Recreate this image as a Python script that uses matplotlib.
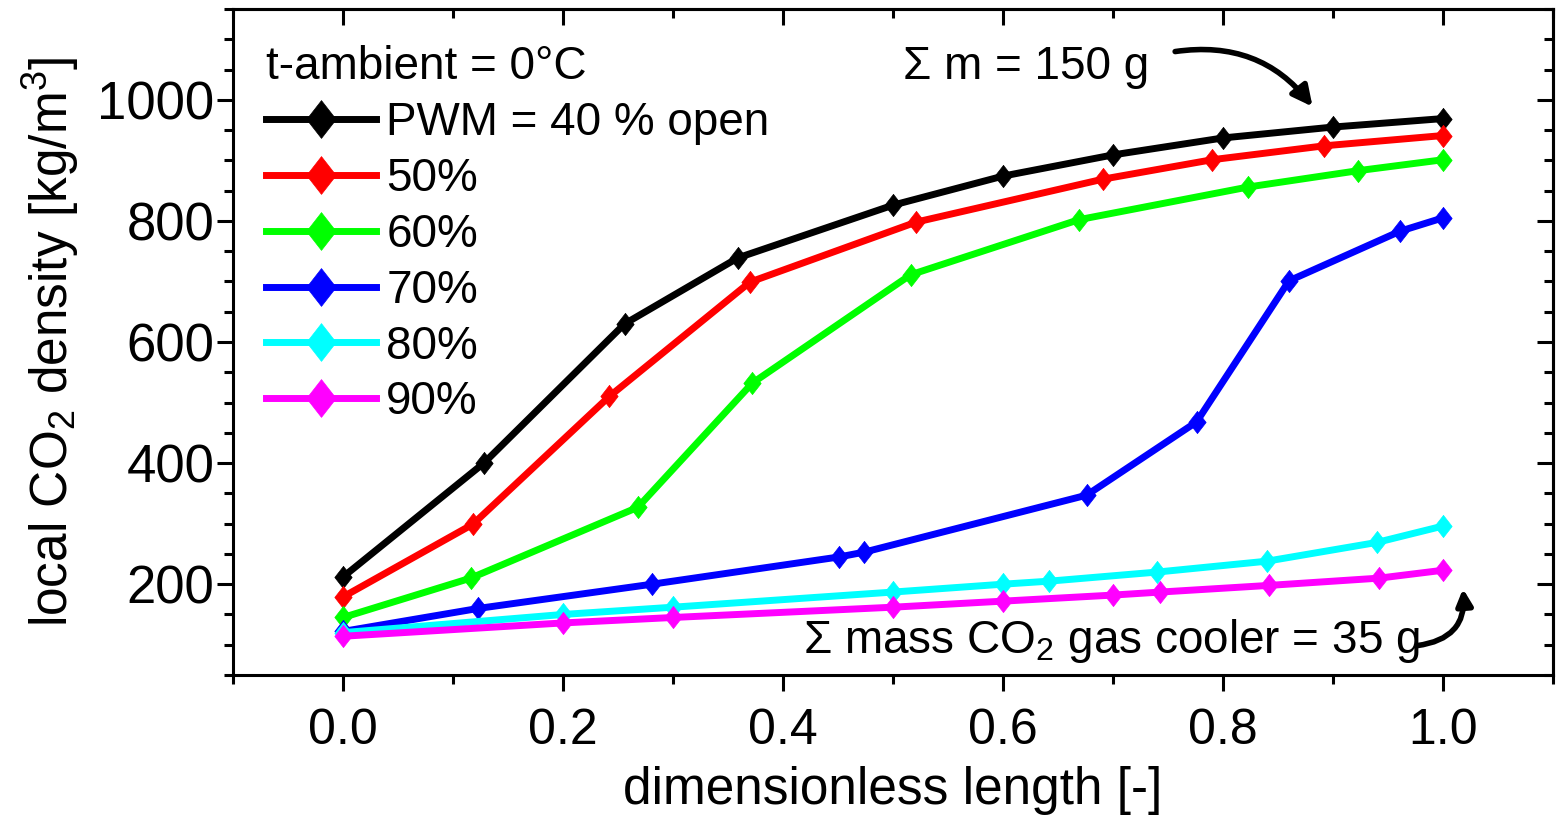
import matplotlib
matplotlib.use("Agg")
import matplotlib.pyplot as plt
from matplotlib.ticker import MultipleLocator

plt.rcParams["font.family"] = ["Liberation Sans", "DejaVu Sans"]
plt.rcParams["mathtext.fontset"] = "custom"
plt.rcParams["mathtext.rm"] = "Liberation Sans"
plt.rcParams["mathtext.it"] = "Liberation Sans:italic"
plt.rcParams["mathtext.bf"] = "Liberation Sans:bold"

# values
x_40 = [0.0, 0.128, 0.256, 0.359, 0.5, 0.6, 0.7, 0.8, 0.9, 1.0]
y_40 = [212, 400, 630, 739, 826, 874, 909, 937, 955, 969]

x_50 = [0.0, 0.118, 0.242, 0.370, 0.521, 0.691, 0.79, 0.892, 1.0]
y_50 = [179, 299, 510, 699, 798, 869, 901, 924, 941]

x_60 = [0.0, 0.116, 0.268, 0.372, 0.516, 0.669, 0.823, 0.923, 1.0]
y_60 = [145, 210, 327, 532, 711, 802, 856, 883, 901]

x_70 = [0.0, 0.123, 0.281, 0.451, 0.474, 0.676, 0.776, 0.860, 0.961, 1.0]
y_70 = [122, 160, 200, 245, 253, 347, 468, 701, 783, 805]

x_80 = [0.0, 0.2, 0.3, 0.5, 0.6, 0.642, 0.74, 0.84, 0.94, 1.0]
y_80 = [120, 150, 162, 187, 200, 205, 220, 238, 269, 296]

x_90 = [0.0, 0.2, 0.3, 0.5, 0.6, 0.7, 0.743, 0.842, 0.942, 1.0]
y_90 = [114, 136, 145, 162, 172, 182, 187, 198, 210, 223]

labels = ["PWM = 40 % open", "50%", "60%", "70%", "80%", "90%"]
colors = ["#000000", "#ff0000", "#00ff00", "#0000ff", "#00ffff", "#ff00ff"]
series = [(x_40, y_40), (x_50, y_50), (x_60, y_60),
          (x_70, y_70), (x_80, y_80), (x_90, y_90)]

# slightly tall diamond, like the Origin symbol
diamond = [(0, 1), (0.78, 0), (0, -1), (-0.78, 0), (0, 1)]

fig = plt.figure(figsize=(15.57, 8.17), dpi=100)
ax = fig.add_axes([0.1497, 0.1738, 0.8477, 0.8152])

for (xs, ys), c, lab in zip(series, colors, labels):
    ax.plot(xs, ys, color=c, lw=5, marker=diamond, ms=16,
            mec=c, mew=0.5, label=lab)

ax.set_xlim(-0.1, 1.1)
ax.set_ylim(50, 1150)
ax.xaxis.set_major_locator(MultipleLocator(0.2))
ax.xaxis.set_minor_locator(MultipleLocator(0.1))
ax.yaxis.set_major_locator(MultipleLocator(200))
ax.yaxis.set_minor_locator(MultipleLocator(50))
ax.set_yticks([200, 400, 600, 800, 1000])

for spine in ax.spines.values():
    spine.set_linewidth(2.2)
ax.tick_params(which="major", direction="out", length=11.5, width=2.2)
ax.tick_params(which="minor", direction="out", length=6.5, width=2.2)
ax.tick_params(axis="x", which="major", labelsize=36, pad=12)
ax.tick_params(axis="y", which="major", labelsize=38, pad=2)

# mirrored ticks pointing inward
top = ax.secondary_xaxis("top")
top.xaxis.set_major_locator(MultipleLocator(0.2))
top.xaxis.set_minor_locator(MultipleLocator(0.1))
top.tick_params(which="major", direction="in", length=11.5, width=2.2, labeltop=False)
top.tick_params(which="minor", direction="in", length=6.5, width=2.2)
right = ax.secondary_yaxis("right")
right.yaxis.set_major_locator(MultipleLocator(200))
right.yaxis.set_minor_locator(MultipleLocator(50))
right.tick_params(which="major", direction="in", length=11.5, width=2.2, labelright=False)
right.tick_params(which="minor", direction="in", length=6.5, width=2.2)
for sec in (top, right):
    for spine in sec.spines.values():
        spine.set_linewidth(2.2)

ax.set_xlabel("dimensionless length [-]", fontsize=37, labelpad=9)
ax.set_ylabel("local CO$_2$ density [kg/m$^3$]", fontsize=37, labelpad=12)

ax.legend(loc="upper left", bbox_to_anchor=(0.025, 0.946), frameon=False,
          title="t-ambient = 0°C", title_fontsize=33, fontsize=33,
          alignment="left", borderpad=0, borderaxespad=0, labelspacing=0.26,
          handlelength=2.4, handletextpad=0.22, markerscale=1.7)

ax.text(0.509, 1055, "Σ m = 150 g", fontsize=33, ha="left", va="center")
ax.annotate("", xy=(0.883, 985), xytext=(0.754, 1079),
            arrowprops=dict(arrowstyle="-|>", color="black", lw=4,
                            mutation_scale=30,
                            connectionstyle="arc3,rad=-0.3"))

ax.text(0.418, 106, "Σ mass CO$_2$ gas cooler = 35 g", fontsize=33,
        ha="left", va="center")
ax.annotate("", xy=(1.018, 197), xytext=(0.974, 98),
            arrowprops=dict(arrowstyle="-|>", color="black", lw=4,
                            mutation_scale=24,
                            connectionstyle="arc3,rad=0.5"))

fig.savefig("out.png", dpi=100)
